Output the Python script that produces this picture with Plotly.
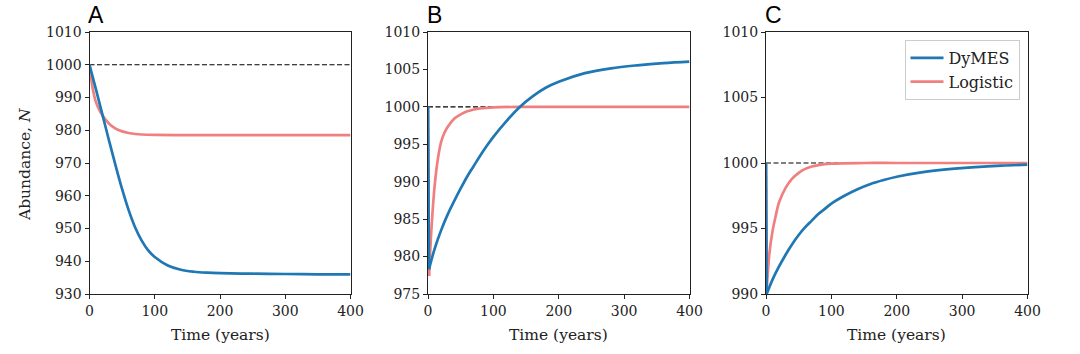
import plotly.graph_objects as go

# ---------------- data ----------------
K = 1000  # carrying capacity (dashed reference line)

# Panel A
a_t_dymes = [0, 10, 20, 30, 40, 50, 60, 70, 80, 90, 100, 120, 140, 160, 180, 200, 250, 300, 350, 400]
a_dymes = [1000, 992.4, 984.6, 976.8, 969.2, 962.0, 955.6, 950.3, 946.3, 943.3, 941.3, 938.7, 937.4, 936.8,
           936.5, 936.35, 936.2, 936.1, 936.0, 936.0]
a_t_logi = [0, 5, 10, 15, 20, 30, 40, 50, 60, 70, 80, 100, 150, 200, 300, 400]
a_logi = [1000, 992.7, 988.5, 986.2, 984.5, 982.0, 980.5, 979.65, 979.15, 978.85, 978.7, 978.58, 978.5,
          978.5, 978.5, 978.5]

# Panel B
b_t_dymes = [0, 1.5, 10, 20, 30, 40, 50, 60, 70, 80, 90, 100, 120, 140, 160, 180, 200, 240, 280, 320, 360, 400]
b_dymes = [1000, 978.3, 981.0, 983.5, 985.6, 987.4, 989.1, 990.7, 992.1, 993.5, 994.8, 996.0, 998.1, 999.95,
           1001.4, 1002.55, 1003.35, 1004.5, 1005.15, 1005.55, 1005.85, 1006.05]
b_t_logi = [0, 1.5, 5, 10, 15, 20, 25, 30, 40, 50, 60, 70, 80, 100, 150, 200, 300, 400]
b_logi = [1000, 977.4, 983.3, 989.3, 993.0, 995.3, 996.5, 997.3, 998.4, 999.0, 999.4, 999.65, 999.8, 999.94,
          1000, 1000, 1000, 1000]

# Panel C
c_t_dymes = [0, 1, 10, 20, 30, 40, 50, 60, 70, 80, 90, 100, 120, 140, 160, 180, 200, 240, 280, 320, 360, 400]
c_dymes = [1000, 990.0, 991.1, 992.1, 993.0, 993.8, 994.5, 995.1, 995.6, 996.1, 996.5, 996.9, 997.5, 998.0,
           998.4, 998.7, 998.95, 999.3, 999.53, 999.69, 999.8, 999.87]
c_t_logi = [0, 1, 5, 10, 15, 20, 30, 40, 50, 60, 70, 80, 100, 150, 200, 300, 400]
c_logi = [1000, 990.2, 993.0, 994.8, 996.0, 997.0, 998.1, 998.8, 999.25, 999.55, 999.73, 999.84, 999.95,
          1000, 1000, 1000, 1000]

# does the series start with an instantaneous jump at t = 0?
starts_with_jump = [False, True, True]

panel_letters = ["A", "B", "C"]
x_ticks = [0, 100, 200, 300, 400]
y_ranges = [(930, 1010), (975, 1010), (990, 1010)]
y_dticks = [10, 5, 5]

series_names = ["DyMES", "Logistic"]

# ---------------- styling ----------------
BLUE = "#1f77b4"
RED = "#f08080"
INK = "#222222"
SERIF = "DejaVu Serif"
SANS = "Liberation Sans, Arial, sans-serif"
W, H = 1080, 354

x_domains_px = [(89.5, 350.5), (428, 689.5), (766, 1027.5)]
y_dom = [1 - 294 / H, 1 - 32 / H]

fig = go.Figure()

panels = [
    (a_t_dymes, a_dymes, a_t_logi, a_logi),
    (b_t_dymes, b_dymes, b_t_logi, b_logi),
    (c_t_dymes, c_dymes, c_t_logi, c_logi),
]

LW = 2.7


def add_series(t, v, color, name, rank, show, xa, ya, jump):
    start = 0
    if jump:
        # the instantaneous first step is drawn straight, the rest smooth
        fig.add_trace(go.Scatter(x=t[:2], y=v[:2], mode="lines", xaxis=xa, yaxis=ya,
                                 line=dict(color=color, width=LW), showlegend=False,
                                 hoverinfo="skip"))
        start = 1
    fig.add_trace(go.Scatter(x=t[start:], y=v[start:], mode="lines", xaxis=xa, yaxis=ya,
                             line=dict(color=color, width=LW, shape="spline", smoothing=1.0),
                             name=name, showlegend=show, legendrank=rank))


for i, (td, vd, tl, vl) in enumerate(panels):
    xa = "x" if i == 0 else f"x{i+1}"
    ya = "y" if i == 0 else f"y{i+1}"
    show = i == 2
    add_series(tl, vl, RED, series_names[1], 2, show, xa, ya, starts_with_jump[i])
    add_series(td, vd, BLUE, series_names[0], 1, show, xa, ya, starts_with_jump[i])

layout = dict(
    width=W, height=H,
    margin=dict(l=0, r=0, t=0, b=0, pad=0, autoexpand=False),
    paper_bgcolor="white", plot_bgcolor="white",
    font=dict(family=SERIF, size=14, color=INK),
    showlegend=True,
    legend=dict(
        x=1019.5 / W, y=1 - 40 / H, xanchor="right", yanchor="top",
        bgcolor="rgba(255,255,255,0.8)", bordercolor="#cccccc", borderwidth=1,
        font=dict(family=SERIF, size=16, color=INK),
        itemwidth=33, tracegroupgap=0,
    ),
    shapes=[], annotations=[],
)

for i in range(3):
    xk = "xaxis" if i == 0 else f"xaxis{i+1}"
    yk = "yaxis" if i == 0 else f"yaxis{i+1}"
    ya = "y" if i == 0 else f"y{i+1}"
    xa = "x" if i == 0 else f"x{i+1}"
    x0, x1 = x_domains_px[i]
    common = dict(showline=True, linecolor=INK, linewidth=1, mirror=True,
                  ticks="outside", ticklen=4, tickwidth=1, tickcolor=INK,
                  showgrid=False, zeroline=False, automargin=False,
                  tickfont=dict(family=SERIF, size=14, color=INK))
    layout[xk] = dict(domain=[x0 / W, x1 / W], range=[0, 400], tickvals=x_ticks,
                      anchor=ya, **common)
    lo, hi = y_ranges[i]
    layout[yk] = dict(domain=y_dom, range=[lo, hi], tick0=lo, dtick=y_dticks[i],
                      anchor=xa, **common)
    layout["shapes"].append(dict(type="line", xref=f"{xa} domain", x0=0, x1=1,
                                 yref=ya, y0=K, y1=K, layer="below",
                                 line=dict(color="black", width=1.2, dash="5px,2.5px")))
    layout["annotations"].append(dict(text=panel_letters[i], xref=f"{xa} domain", x=-0.012,
                                      yref="paper", y=1 - 15 / H, xanchor="left", yanchor="middle",
                                      showarrow=False, font=dict(family=SANS, size=23, color="black")))
    layout["annotations"].append(dict(text="Time (years)", xref=f"{xa} domain", x=0.5,
                                      yref="paper", y=1 - 335 / H, xanchor="center", yanchor="middle",
                                      showarrow=False, font=dict(family=SERIF, size=15.5, color=INK)))

layout["annotations"].append(dict(text="Abundance, <i>N</i>", xref="paper", x=25 / W,
                                  yref="paper", y=1 - 164 / H, xanchor="center", yanchor="middle",
                                  textangle=-90, showarrow=False,
                                  font=dict(family=SERIF, size=15.5, color=INK)))

fig.update_layout(**layout)
fig.write_html("out.html")
